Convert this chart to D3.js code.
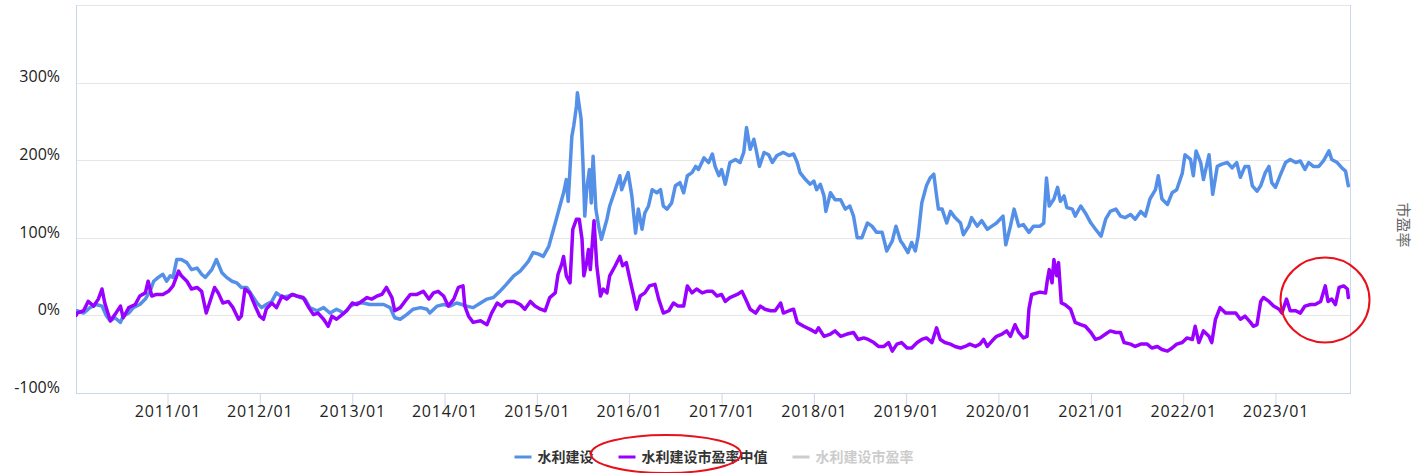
<!DOCTYPE html>
<html>
<head>
<meta charset="utf-8">
<script src="https://cdn.jsdelivr.net/npm/d3@7"></script>
<style>
  html, body { margin: 0; padding: 0; background: #fff; }
  svg { display: block; }
</style>
</head>
<body>
<svg id="chart" width="1424" height="473"></svg>
<script>
// ---------------- data (decimal-year dates, percent values) ----------------
const seriesNames = ["水利建设", "水利建设市盈率中值", "水利建设市盈率"];
const yTickValues = [-100, 0, 100, 200, 300];
const yTickLabels = ["-100%", "0%", "100%", "200%", "300%"];
const xTickYears = [2011, 2012, 2013, 2014, 2015, 2016, 2017, 2018, 2019, 2020, 2021, 2022, 2023];
const xTickLabels = ["2011/01","2012/01","2013/01","2014/01","2015/01","2016/01","2017/01","2018/01","2019/01","2020/01","2021/01","2022/01","2023/01"];
const xDomain = ["2010-01-04", "2023-10-23"];
const yDomain = [-100, 400];
const rightAxisTitle = "市盈率";

const indexDates = [2010.01,2010.02,2010.09,2010.16,2010.23,2010.29,2010.34,2010.38,2010.43,2010.49,2010.52,2010.58,2010.63,2010.70,2010.76,2010.81,2010.85,2010.90,2010.95,2010.99,
  2011.03,2011.06,2011.10,2011.15,2011.21,2011.26,2011.32,2011.37,2011.41,2011.48,2011.53,2011.59,2011.64,2011.70,2011.75,2011.80,2011.86,2011.91,2011.97,
  2012.02,2012.07,2012.13,2012.18,2012.25,2012.31,2012.36,2012.44,2012.49,2012.54,2012.62,2012.69,2012.76,2012.83,2012.91,2012.98,
  2013.05,2013.12,2013.19,2013.27,2013.34,2013.41,2013.46,2013.52,2013.59,2013.66,2013.74,2013.81,2013.84,2013.92,2013.99,
  2014.06,2014.13,2014.19,2014.24,2014.31,2014.39,2014.46,2014.53,2014.60,2014.67,2014.75,2014.82,2014.87,2014.91,2014.96,
  2015.02,2015.07,2015.13,2015.16,2015.20,2015.25,2015.29,2015.32,2015.34,2015.38,2015.40,2015.43,2015.44,2015.46,2015.48,2015.50,2015.52,2015.54,2015.57,2015.59,2015.61,2015.64,2015.67,2015.70,2015.73,2015.76,2015.79,2015.85,2015.90,2015.92,2015.96,2015.99,
  2016.03,2016.07,2016.10,2016.14,2016.17,2016.21,2016.25,2016.30,2016.34,2016.37,2016.41,2016.46,2016.50,2016.55,2016.59,2016.63,2016.68,2016.72,2016.75,2016.81,2016.86,2016.90,2016.93,2016.97,
  2017.00,2017.04,2017.09,2017.15,2017.20,2017.24,2017.27,2017.31,2017.35,2017.38,2017.41,2017.46,2017.51,2017.55,2017.60,2017.67,2017.73,2017.78,2017.82,2017.85,2017.91,2017.96,
  2018.00,2018.03,2018.07,2018.11,2018.13,2018.18,2018.23,2018.29,2018.34,2018.39,2018.43,2018.47,2018.52,2018.58,2018.63,2018.68,2018.74,2018.79,2018.85,2018.89,2018.94,2018.97,
  2019.02,2019.06,2019.10,2019.13,2019.17,2019.22,2019.26,2019.30,2019.33,2019.35,2019.39,2019.44,2019.48,2019.53,2019.59,2019.62,2019.68,2019.71,2019.77,2019.82,2019.88,2019.93,2019.98,
  2020.05,2020.08,2020.13,2020.17,2020.22,2020.27,2020.33,2020.38,2020.45,2020.49,2020.52,2020.55,2020.60,2020.64,2020.67,2020.71,2020.74,2020.80,2020.83,2020.89,2020.94,
  2021.00,2021.05,2021.11,2021.16,2021.21,2021.27,2021.32,2021.37,2021.43,2021.48,2021.54,2021.59,2021.64,2021.70,2021.73,2021.77,2021.83,2021.88,2021.93,2021.99,
  2022.02,2022.08,2022.11,2022.14,2022.19,2022.22,2022.28,2022.32,2022.37,2022.42,2022.48,2022.53,2022.58,2022.62,2022.67,2022.71,2022.75,2022.80,2022.84,2022.89,2022.93,2022.96,
  2023.00,2023.05,2023.11,2023.16,2023.22,2023.27,2023.32,2023.36,2023.41,2023.47,2023.52,2023.58,2023.61,2023.67,2023.72,2023.76,2023.79];
const indexValues = [1,6,3,10,14,12,-1,-7,-3,-9,-1,3,10,14,21,31,44,49,53,44,
  51,49,72,72,68,59,61,53,49,59,72,55,49,44,42,36,36,27,16,
  10,14,18,29,23,25,27,23,21,10,6,10,3,8,3,12,
  16,16,14,14,14,10,-3,-5,1,8,10,8,3,12,14,
  12,16,14,12,10,16,21,23,31,40,51,57,64,70,81,
  79,76,89,102,119,141,158,175,147,231,244,270,287,270,253,197,128,162,188,145,205,137,115,98,111,124,141,162,180,162,175,184,
  154,106,137,111,132,141,162,158,162,141,137,145,167,171,158,180,184,192,188,203,197,208,192,180,
  188,169,197,201,197,210,242,214,227,210,192,210,207,197,206,210,206,208,197,184,175,169,
  173,162,169,154,134,158,149,149,137,141,128,100,100,119,115,107,107,83,96,115,96,91,
  81,94,83,102,145,167,177,182,154,137,137,119,134,126,119,104,115,126,115,122,111,115,119,
  128,91,115,137,115,117,107,115,115,119,177,141,150,165,147,154,139,137,128,141,132,
  119,111,102,124,134,137,128,126,130,124,134,128,150,162,180,150,143,158,162,183,
  207,201,180,212,197,175,207,156,192,195,197,190,197,178,192,192,167,160,167,184,192,171,
  165,180,197,201,197,199,188,197,192,192,199,212,201,197,190,186,167];

const medianDates = [2010.01,2010.02,2010.09,2010.14,2010.20,2010.25,2010.29,2010.32,2010.38,2010.43,2010.49,2010.52,2010.58,2010.65,2010.70,2010.76,2010.79,2010.83,2010.88,2010.95,
  2011.01,2011.06,2011.12,2011.15,2011.21,2011.26,2011.32,2011.37,2011.42,2011.48,2011.51,2011.55,2011.60,2011.66,2011.71,2011.77,2011.80,2011.84,2011.89,2011.95,
  2012.00,2012.04,2012.07,2012.13,2012.18,2012.24,2012.29,2012.35,2012.40,2012.47,2012.53,2012.58,2012.63,2012.69,2012.74,2012.78,2012.83,2012.89,2012.94,
  2013.00,2013.05,2013.10,2013.16,2013.21,2013.27,2013.32,2013.37,2013.43,2013.46,2013.52,2013.57,2013.63,2013.70,2013.77,2013.83,2013.88,2013.93,2013.99,
  2014.04,2014.10,2014.15,2014.20,2014.22,2014.26,2014.31,2014.39,2014.46,2014.51,2014.57,2014.62,2014.67,2014.75,2014.82,2014.87,2014.93,2014.98,
  2015.04,2015.09,2015.14,2015.20,2015.23,2015.27,2015.29,2015.32,2015.36,2015.39,2015.43,2015.46,2015.49,2015.51,2015.54,2015.56,2015.58,2015.62,2015.65,2015.69,2015.72,2015.76,2015.79,2015.85,2015.90,2015.93,2015.97,
  2016.01,2016.05,2016.08,2016.12,2016.17,2016.22,2016.28,2016.32,2016.37,2016.43,2016.48,2016.53,2016.59,2016.63,2016.68,2016.73,2016.79,2016.84,2016.90,2016.95,
  2017.00,2017.04,2017.09,2017.17,2017.22,2017.26,2017.31,2017.37,2017.42,2017.47,2017.53,2017.58,2017.64,2017.67,2017.73,2017.78,2017.82,2017.89,2017.96,
  2018.02,2018.05,2018.11,2018.18,2018.23,2018.29,2018.36,2018.43,2018.48,2018.54,2018.59,2018.65,2018.70,2018.76,2018.81,2018.85,2018.90,2018.95,
  2019.01,2019.06,2019.12,2019.17,2019.22,2019.28,2019.33,2019.37,2019.42,2019.48,2019.53,2019.59,2019.64,2019.69,2019.75,2019.80,2019.84,2019.88,2019.93,2019.98,
  2020.04,2020.09,2020.13,2020.18,2020.22,2020.27,2020.31,2020.33,2020.36,2020.42,2020.45,2020.51,2020.53,2020.55,2020.58,2020.60,2020.63,2020.65,2020.68,2020.72,2020.78,2020.83,2020.89,2020.94,
  2021.00,2021.05,2021.10,2021.16,2021.21,2021.27,2021.32,2021.36,2021.43,2021.48,2021.54,2021.61,2021.66,2021.72,2021.77,2021.83,2021.88,2021.93,2021.99,
  2022.04,2022.10,2022.13,2022.17,2022.22,2022.28,2022.31,2022.35,2022.40,2022.46,2022.51,2022.57,2022.62,2022.67,2022.73,2022.76,2022.80,2022.84,2022.87,2022.93,2022.98,
  2023.04,2023.07,2023.12,2023.16,2023.22,2023.27,2023.32,2023.38,2023.43,2023.49,2023.54,2023.57,2023.61,2023.65,2023.69,2023.74,2023.78,2023.79];
const medianValues = [0,3,6,18,12,21,34,16,-7,1,12,-3,10,14,25,29,44,25,27,27,
  31,38,57,51,44,34,36,31,3,25,36,29,16,18,10,-5,-1,34,29,12,
  -1,-5,8,16,10,25,21,27,25,23,10,1,3,-5,-14,-1,-5,1,6,
  16,14,18,23,21,25,27,36,23,6,10,18,27,27,31,21,29,31,25,
  12,21,36,38,12,-1,-9,-7,-12,3,16,12,18,18,14,8,18,12,
  8,6,23,29,53,66,76,51,42,111,124,124,98,51,68,85,59,122,64,25,34,29,51,64,76,64,68,
  46,25,8,25,29,38,40,21,3,6,16,12,12,38,29,34,29,31,31,25,
  27,18,23,27,31,21,8,3,12,8,6,6,16,3,6,8,-9,-14,-18,
  -22,-16,-27,-24,-20,-27,-24,-22,-31,-29,-31,-35,-40,-40,-35,-46,-37,-35,
  -42,-42,-35,-31,-29,-35,-16,-31,-35,-37,-40,-42,-40,-37,-40,-37,-31,-40,-33,-27,
  -24,-20,-27,-12,-22,-29,-27,8,27,29,30,29,46,59,42,72,51,68,16,14,8,-9,-12,-14,
  -22,-31,-29,-24,-20,-22,-22,-35,-37,-40,-37,-37,-42,-40,-44,-46,-42,-37,-35,
  -29,-31,-14,-35,-20,-27,-35,-5,10,3,3,3,-5,-1,-9,-14,-12,18,23,18,12,
  8,3,21,6,6,3,12,14,14,18,38,18,21,14,36,38,34,23];

// ---------------- layout ----------------
const plot = { left: 76, right: 1350, top: 5, bottom: 393 };
const colors = { index: "#5590e8", median: "#9a00ff", hidden: "#cccccc" };

const toDate = dy => {
  const yr = Math.floor(dy);
  const s = Date.UTC(yr, 0, 1), e = Date.UTC(yr + 1, 0, 1);
  return new Date(s + (dy - yr) * (e - s));
};

const svg = d3.select("#chart");
const x = d3.scaleUtc().domain(xDomain.map(s => new Date(s + "T00:00:00Z"))).range([plot.left, plot.right]);
const y = d3.scaleLinear().domain(yDomain).range([plot.bottom, plot.top]);

// plot border (top & right)
svg.append("line").attr("x1", plot.left).attr("x2", plot.right).attr("y1", plot.top + 0.5).attr("y2", plot.top + 0.5)
  .attr("stroke", "#e6e6e6");
svg.append("line").attr("x1", plot.right + 0.5).attr("x2", plot.right + 0.5).attr("y1", plot.top).attr("y2", plot.bottom)
  .attr("stroke", "#ccd6eb");

// grid lines
svg.append("g").selectAll("line").data(yTickValues.filter(v => v > yDomain[0]))
  .join("line")
  .attr("x1", plot.left).attr("x2", plot.right)
  .attr("y1", d => Math.round(y(d)) + 0.5).attr("y2", d => Math.round(y(d)) + 0.5)
  .attr("stroke", "#e6e6e6").attr("stroke-width", 1);

// y axis (left)
const yAxis = d3.axisLeft(y).tickValues(yTickValues).tickSize(0).tickPadding(0)
  .tickFormat((d, i) => yTickLabels[i]);
const gy = svg.append("g").attr("transform", `translate(${plot.left - 16},0)`).call(yAxis);
gy.select(".domain").remove();
gy.selectAll("text").attr("font-family", "'Open Sans', sans-serif").attr("font-size", 16)
  .attr("fill", "#222").attr("dy", "-0.05em");
svg.append("line").attr("x1", plot.left + 0.5).attr("x2", plot.left + 0.5).attr("y1", plot.top).attr("y2", plot.bottom)
  .attr("stroke", "#ccd6eb");

// x axis
const xAxis = d3.axisBottom(x).tickValues(xTickYears.map(yr => new Date(Date.UTC(yr, 0, 1))))
  .tickSize(14).tickPadding(-2).tickFormat((d, i) => xTickLabels[i]);
const gx = svg.append("g").attr("transform", `translate(0,${plot.bottom + 0.5})`).call(xAxis);
gx.select(".domain").attr("stroke", "#ccd6eb").attr("d", `M${plot.left},0H${plot.right + 1}`);
gx.selectAll(".tick line").attr("stroke", "#ccd6eb");
gx.selectAll("text").attr("font-family", "'Open Sans', sans-serif").attr("font-size", 16)
  .attr("fill", "#222").attr("letter-spacing", "0.8px");

// right axis title
svg.append("text").attr("transform", `translate(1398,225) rotate(90)`)
  .attr("text-anchor", "middle").attr("font-family", "'Noto Sans CJK SC', sans-serif")
  .attr("font-size", 15).attr("fill", "#666").text(rightAxisTitle);

// lines
const line = d3.line().x(d => x(toDate(d[0]))).y(d => y(d[1])).curve(d3.curveLinear);
svg.append("clipPath").attr("id", "clip").append("rect")
  .attr("x", plot.left).attr("y", plot.top).attr("width", plot.right - plot.left).attr("height", plot.bottom - plot.top);
const gLines = svg.append("g").attr("clip-path", "url(#clip)");
gLines.append("path").datum(indexDates.map((d, i) => [d, indexValues[i]]))
  .attr("d", line).attr("fill", "none").attr("stroke", colors.index).attr("stroke-width", 3.5)
  .attr("stroke-linejoin", "round").attr("stroke-linecap", "round");
gLines.append("path").datum(medianDates.map((d, i) => [d, medianValues[i]]))
  .attr("d", line).attr("fill", "none").attr("stroke", colors.median).attr("stroke-width", 3.5)
  .attr("stroke-linejoin", "round").attr("stroke-linecap", "round");

// legend
const legendItems = [
  { name: seriesNames[0], color: colors.index, text: "#333333" },
  { name: seriesNames[1], color: colors.median, text: "#333333" },
  { name: seriesNames[2], color: colors.hidden, text: "#cccccc" }
];
const gL = svg.append("g");
let cx = 0;
const items = legendItems.map(it => {
  const g = gL.append("g");
  g.append("line").attr("x1", 0).attr("x2", 17).attr("y1", 0).attr("y2", 0)
    .attr("stroke", it.color).attr("stroke-width", 3);
  const t = g.append("text").attr("x", 23).attr("y", 5)
    .attr("font-family", "'Noto Sans CJK SC', sans-serif").attr("font-weight", "bold")
    .attr("font-size", 14).attr("fill", it.text).text(it.name);
  const w = 23 + t.node().getComputedTextLength();
  const pos = cx;
  cx += w + 25;
  return { g, pos };
});
const totalW = cx - 25;
const startX = 714 - totalW / 2;
items.forEach(o => o.g.attr("transform", `translate(${startX + o.pos},457)`));

// red annotation ellipses
svg.append("ellipse").attr("cx", 666).attr("cy", 454).attr("rx", 75).attr("ry", 19)
  .attr("fill", "none").attr("stroke", "#e8101a").attr("stroke-width", 2);
svg.append("ellipse").attr("cx", 1325).attr("cy", 300).attr("rx", 44.5).attr("ry", 42.5)
  .attr("fill", "none").attr("stroke", "#e8101a").attr("stroke-width", 2);
</script>
</body>
</html>
